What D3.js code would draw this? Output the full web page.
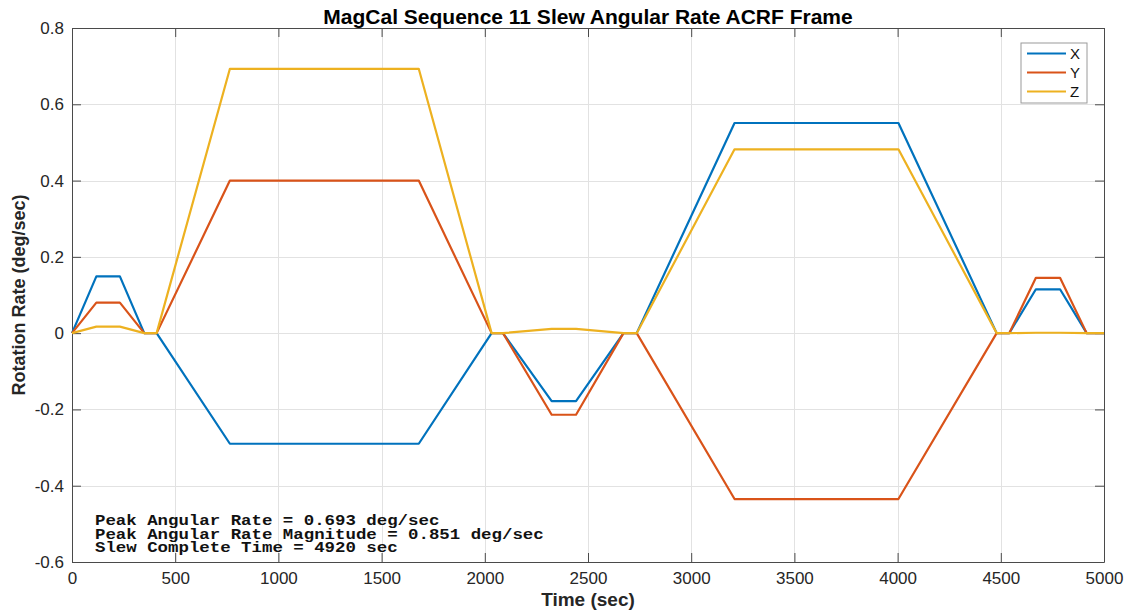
<!DOCTYPE html>
<html>
<head>
<meta charset="utf-8">
<script src="https://cdn.jsdelivr.net/npm/d3@7"></script>
<style>
  body { margin: 0; background: #fff; }
  svg { display: block; }
</style>
</head>
<body>
<svg class="chart" width="1126" height="611"></svg>
<script>
// breakpoints of the slew profile (sec)
const times = [0, 118, 232, 350, 410, 765, 1680, 2033, 2088, 2324, 2442, 2672, 2736, 3210, 4004, 4480, 4541, 4670, 4787, 4916, 5000];
// angular rate per axis (deg/sec)
const xRate = [0, 0.149, 0.149, 0, 0, -0.290, -0.290, 0, 0, -0.178, -0.178, 0, 0, 0.551, 0.551, 0, 0, 0.115, 0.115, 0, 0];
const yRate = [0, 0.080, 0.080, 0, 0, 0.400, 0.400, 0, 0, -0.214, -0.214, 0, 0, -0.435, -0.435, 0, 0, 0.145, 0.145, 0, 0];
const zRate = [0, 0.017, 0.017, 0, 0, 0.693, 0.693, 0, 0, 0.011, 0.011, 0, 0, 0.482, 0.482, 0, 0, 0.001, 0.001, 0, 0];

const seriesNames = ["X", "Y", "Z"];
const seriesColors = ["#0072BD", "#D95319", "#EDB120"];
const xTicks = [0, 500, 1000, 1500, 2000, 2500, 3000, 3500, 4000, 4500, 5000];
const yTicks = [-0.6, -0.4, -0.2, 0, 0.2, 0.4, 0.6, 0.8];
const notes = [
  "Peak Angular Rate = 0.693 deg/sec",
  "Peak Angular Rate Magnitude = 0.851 deg/sec",
  "Slew Complete Time = 4920 sec"
];

let svg = d3.select(".chart"),
  margin = {top: 28, right: 22, bottom: 49, left: 72},
  width = 1126 - margin.left - margin.right,
  height = 611 - margin.top - margin.bottom,
  g = svg.append("g").attr("transform", "translate(" + margin.left + "," + margin.top + ")");

let x = d3.scaleLinear().domain([0, 5000]).range([0, width]);
let y = d3.scaleLinear().domain([-0.6, 0.8]).range([height, 0]);

const sans = "'Liberation Sans', Arial, sans-serif";
const axisColor = "#4a4a4a";

//grid
g.append("g").selectAll("line").data(xTicks).enter().append("line")
  .attr("x1", d => Math.round(x(d)) + 0.5).attr("x2", d => Math.round(x(d)) + 0.5)
  .attr("y1", 0).attr("y2", height)
  .style("stroke", "#e2e2e2").style("stroke-width", 1);
g.append("g").selectAll("line").data(yTicks).enter().append("line")
  .attr("y1", d => Math.round(y(d)) + 0.5).attr("y2", d => Math.round(y(d)) + 0.5)
  .attr("x1", 0).attr("x2", width)
  .style("stroke", "#e2e2e2").style("stroke-width", 1);

//axes, ticks inside on all four sides
let fmtY = d => d === 0 ? "0" : d3.format(".1f")(d).replace("−", "-");
let axisBottomG = g.append("g").attr("transform", "translate(0," + height + ")")
  .call(d3.axisBottom(x).tickValues(xTicks).tickSizeInner(-9).tickSizeOuter(0).tickPadding(10).tickFormat(d3.format("d")));
let axisTopG = g.append("g")
  .call(d3.axisTop(x).tickValues(xTicks).tickSizeInner(-9).tickSizeOuter(0).tickFormat(""));
let axisLeftG = g.append("g")
  .call(d3.axisLeft(y).tickValues(yTicks).tickSizeInner(-9).tickSizeOuter(0).tickPadding(8).tickFormat(fmtY));
let axisRightG = g.append("g").attr("transform", "translate(" + width + ",0)")
  .call(d3.axisRight(y).tickValues(yTicks).tickSizeInner(-9).tickSizeOuter(0).tickFormat(""));

[axisBottomG, axisTopG, axisLeftG, axisRightG].forEach(a => {
  a.select(".domain").style("stroke", axisColor);
  a.selectAll(".tick line").style("stroke", axisColor);
  a.selectAll("text").style("font", "17px " + sans).style("fill", "#262626");
});

//series lines
let line = d3.line().x((d, i) => x(times[i])).y(d => y(d));
[xRate, yRate, zRate].forEach((vals, k) => {
  g.append("path")
    .datum(vals)
    .attr("d", line)
    .style("fill", "none")
    .style("stroke", seriesColors[k])
    .style("stroke-width", 2.2)
    .style("stroke-linejoin", "round");
});

//annotation (courier, slightly wide)
let note = g.append("g").attr("transform", "translate(23,0) scale(1.243,1)");
notes.forEach((t, i) => {
  note.append("text")
    .attr("x", 0)
    .attr("y", 497.5 + i * 13.5)
    .attr("xml:space", "preserve")
    .style("font", "bold 14px 'Liberation Mono', 'Courier New', monospace")
    .style("fill", "#111")
    .text(t);
});

//legend
let legend = g.append("g").attr("transform", "translate(" + (width - 83) + ",15)");
legend.append("rect")
  .attr("width", 66).attr("height", 60)
  .style("fill", "#fff").style("stroke", "#9a9a9a").style("stroke-width", 1);
seriesNames.forEach((name, i) => {
  legend.append("line")
    .attr("x1", 6).attr("x2", 45)
    .attr("y1", 10.5 + i * 19).attr("y2", 10.5 + i * 19)
    .style("stroke", seriesColors[i]).style("stroke-width", 2.2);
  legend.append("text")
    .attr("x", 49).attr("y", 16 + i * 19)
    .style("font", "15px " + sans).style("fill", "#111")
    .text(name);
});

//title and axis labels
svg.append("text")
  .attr("x", margin.left + width / 2).attr("y", 24)
  .attr("text-anchor", "middle")
  .style("font", "bold 21px " + sans).style("fill", "#000")
  .text("MagCal Sequence 11 Slew Angular Rate ACRF Frame");

svg.append("text")
  .attr("x", margin.left + width / 2).attr("y", 606)
  .attr("text-anchor", "middle")
  .style("font", "bold 19px " + sans).style("fill", "#262626")
  .text("Time (sec)");

svg.append("text")
  .attr("transform", "translate(25," + (margin.top + height / 2) + ") rotate(-90)")
  .attr("text-anchor", "middle")
  .style("font", "bold 18px " + sans).style("fill", "#262626")
  .text("Rotation Rate (deg/sec)");
</script>
</body>
</html>
